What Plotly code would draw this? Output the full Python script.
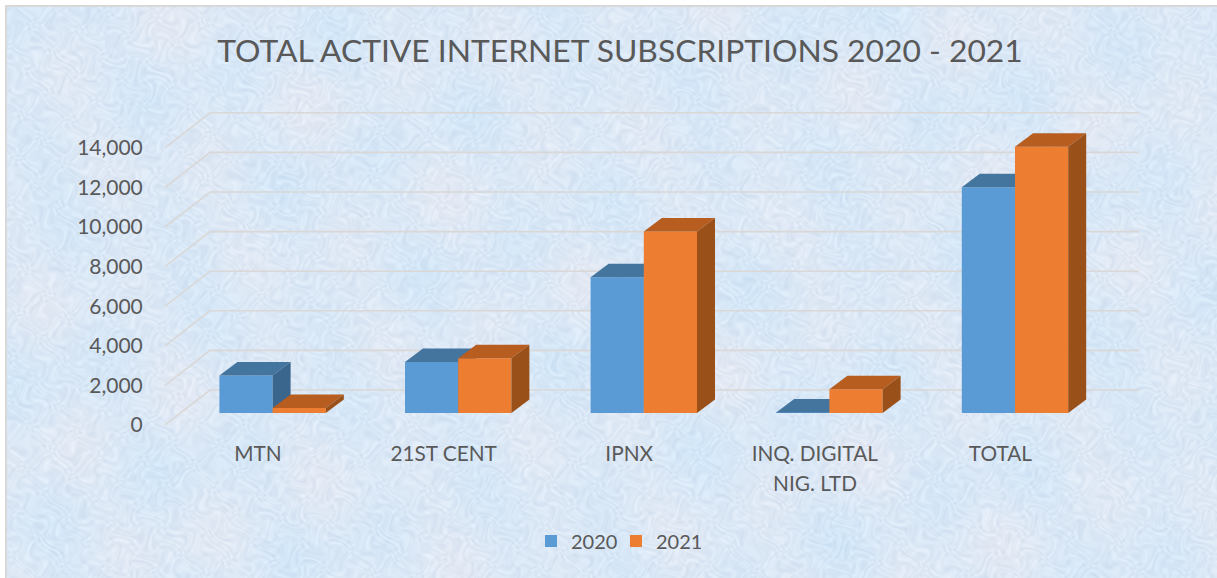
import base64, struct, zlib
import numpy as np
import plotly.graph_objects as go

categories = ["MTN", "21ST CENT", "IPNX", "INQ. DIGITAL", "TOTAL"]
category_second_line = "NIG. LTD"
values_2020 = [1900, 2570, 6850, 30, 11400]
values_2021 = [250, 2770, 9170, 1200, 13450]
y_ticks = [0, 2000, 4000, 6000, 8000, 10000, 12000, 14000]
title_text = "TOTAL ACTIVE INTERNET SUBSCRIPTIONS 2020 - 2021"

W, H = 1217, 578
PX_L, PX_R, PX_T, PX_B = 150, 1160, 100, 425      # plot area in page pixels
PX_PER_CAT, PX_PER_UNIT = 185.6, 39.6 / 2000.0
X_ORIGIN = 258.0                                   # pixel of first category label

x_range = [(PX_L - X_ORIGIN) / PX_PER_CAT, (PX_R - X_ORIGIN) / PX_PER_CAT]
y_range = [0, (PX_B - PX_T) / PX_PER_UNIT]

BAR_W = 53.2 / PX_PER_CAT
BAR_SHIFT = 14.6 / PX_PER_CAT      # bars stand deeper in the chart than the labels
FLOOR = 12 / PX_PER_UNIT           # bars start above the front edge of the floor
DEPTH_X, DEPTH_Y = 18 / PX_PER_CAT, 13.5 / PX_PER_UNIT
WALL_X, WALL_Y = 45 / PX_PER_CAT, 35 / PX_PER_UNIT
GRID_LEFT = (165 - X_ORIGIN) / PX_PER_CAT
GRID_RIGHT = (1139 - X_ORIGIN) / PX_PER_CAT

TEXT = "#595959"
FONT = "Lato, Carlito, Calibri, sans-serif"


def px_x(p):
    return (p - PX_L) / (PX_R - PX_L)


def px_y(p):
    return (PX_B - p) / (PX_B - PX_T)


def texture_uri(w=1211, h=572):
    """Mottled paper background, built from warped waves."""
    yy, xx = np.mgrid[0:h, 0:w].astype(float)
    xx, yy = xx * 0.5, yy * 0.5
    wx = xx + 7 * np.sin(yy * 0.083 + 0.4) + 4 * np.sin(yy * 0.317 + xx * 0.231)
    wy = yy + 7 * np.sin(xx * 0.071 + 1.9) + 4 * np.cos(xx * 0.293 - yy * 0.249)
    fine = (np.sin(wx * 0.913 + 1.7 * np.sin(wy * 0.391))
            + np.sin(wy * 1.039 + 1.9 * np.sin(wx * 0.437 + 2.1))
            + 0.8 * np.sin((wx * 0.73 - wy * 1.21) + 2.3 * np.cos(wy * 0.273))
            + 0.7 * np.cos((wx * 1.47 + wy * 0.89) + 1.6 * np.sin(wx * 0.227)))
    blot = (np.sin(xx * 0.047 + 0.6) * np.sin(yy * 0.071 + 1.1)
            + 0.8 * np.sin(xx * 0.113 - yy * 0.037 + 2.2)
            + 0.6 * np.cos(xx * 0.029 + yy * 0.097))
    r = 219 + 3.0 * fine - 3.5 * blot
    g = 232 + 2.4 * fine - 0.5 * blot
    b = 246 + 1.6 * fine + 0.8 * blot
    img = np.clip(np.stack([r, g, b], axis=-1), 0, 255).astype(np.uint8)
    raw = b"".join(b"\x00" + img[i].tobytes() for i in range(h))

    def chunk(tag, data):
        return struct.pack(">I", len(data)) + tag + data + struct.pack(">I", zlib.crc32(tag + data))

    png = (b"\x89PNG\r\n\x1a\n" + chunk(b"IHDR", struct.pack(">IIBBBBB", w, h, 8, 2, 0, 0, 0))
           + chunk(b"IDAT", zlib.compress(raw, 9)) + chunk(b"IEND", b""))
    return "data:image/png;base64," + base64.b64encode(png).decode()


def face(xs, ys, color, axes):
    return go.Scatter(x=xs, y=ys, mode="lines", fill="toself", fillcolor=color,
                      line=dict(width=0, color=color), hoverinfo="skip",
                      showlegend=False, xaxis=axes[0], yaxis=axes[1])


def column_traces(values, offset, front, top, side, name, axes):
    xs = [i + BAR_SHIFT for i in range(len(values))]
    traces = [go.Bar(x=xs, y=values, base=[FLOOR] * len(values), width=BAR_W, offset=offset,
                     marker=dict(color=front, line=dict(width=0)), name=name,
                     xaxis=axes[0], yaxis=axes[1])]
    for c, v in zip(xs, values):
        left, right = c + offset, c + offset + BAR_W
        hi = FLOOR + v
        traces.append(face([left, right, right + DEPTH_X, left + DEPTH_X, left],
                           [hi, hi, hi + DEPTH_Y, hi + DEPTH_Y, hi], top, axes))
        traces.append(face([right, right + DEPTH_X, right + DEPTH_X, right, right],
                           [FLOOR, FLOOR + DEPTH_Y, hi + DEPTH_Y, hi, FLOOR], side, axes))
    return traces


fig = go.Figure()

for t in y_ticks:
    fig.add_trace(go.Scatter(
        x=[GRID_LEFT, GRID_LEFT + WALL_X, GRID_RIGHT], y=[t, t + WALL_Y, t + WALL_Y],
        mode="lines", line=dict(color="#d9d8d6", width=1.6), hoverinfo="skip", showlegend=False))

for tr in column_traces(values_2020, -BAR_W, "#5B9BD5", "#44759F", "#3A658C", "2020", ("x2", "y2")):
    fig.add_trace(tr)
for tr in column_traces(values_2021, 0.0, "#ED7D31", "#B75D1F", "#9A5019", "2021", ("x3", "y3")):
    fig.add_trace(tr)

fig.update_layout(
    width=W, height=H,
    margin=dict(l=PX_L, r=W - PX_R, t=PX_T, b=H - PX_B, pad=0),
    paper_bgcolor="white", plot_bgcolor="rgba(0,0,0,0)",
    font=dict(family=FONT, color=TEXT),
    barmode="overlay",
    title=dict(text=title_text, x=620 / W, xanchor="center", y=1 - 51 / H, yanchor="middle",
               font=dict(size=31.8, color=TEXT, family=FONT)),
    xaxis=dict(range=x_range, tickmode="array", tickvals=list(range(len(categories))),
               ticktext=categories, showgrid=False, zeroline=False, showline=False,
               ticks="outside", ticklen=10, tickcolor="rgba(0,0,0,0)",
               tickfont=dict(size=20.8, color=TEXT, family=FONT)),
    yaxis=dict(range=y_range, tickmode="array", tickvals=y_ticks, tickformat=",d",
               showgrid=False, zeroline=False, showline=False,
               ticks="outside", ticklen=2, tickcolor="rgba(0,0,0,0)",
               tickfont=dict(size=21, color=TEXT, family=FONT)),
    xaxis2=dict(range=x_range, overlaying="x", anchor="y2", visible=False),
    yaxis2=dict(range=y_range, overlaying="y", anchor="x2", visible=False),
    xaxis3=dict(range=x_range, overlaying="x", anchor="y3", visible=False),
    yaxis3=dict(range=y_range, overlaying="y", anchor="x3", visible=False),
    legend=dict(orientation="h", x=px_x(616), xanchor="center", y=px_y(541), yanchor="middle",
                font=dict(size=20, color=TEXT, family=FONT), bgcolor="rgba(0,0,0,0)",
                itemwidth=30, entrywidth=40, entrywidthmode="pixels", traceorder="normal"),
    annotations=[dict(text=category_second_line, x=3, xref="x", y=px_y(482), yref="paper",
                      yanchor="middle", showarrow=False,
                      font=dict(size=20.8, color=TEXT, family=FONT))],
    images=[dict(source=texture_uri(), xref="paper", yref="paper",
                 x=px_x(6), y=px_y(6), sizex=px_x(W) - px_x(6), sizey=px_y(6) - px_y(H),
                 xanchor="left", yanchor="top", sizing="stretch", layer="below")],
    shapes=[dict(type="rect", xref="paper", yref="paper", layer="below",
                 x0=px_x(6), x1=px_x(W + 6), y0=px_y(H + 6), y1=px_y(6),
                 line=dict(color="#d8d8d8", width=2), fillcolor="rgba(0,0,0,0)")],
)

fig.write_html("out.html", config={"displayModeBar": False},
               post_script="document.body.style.margin='0';")
